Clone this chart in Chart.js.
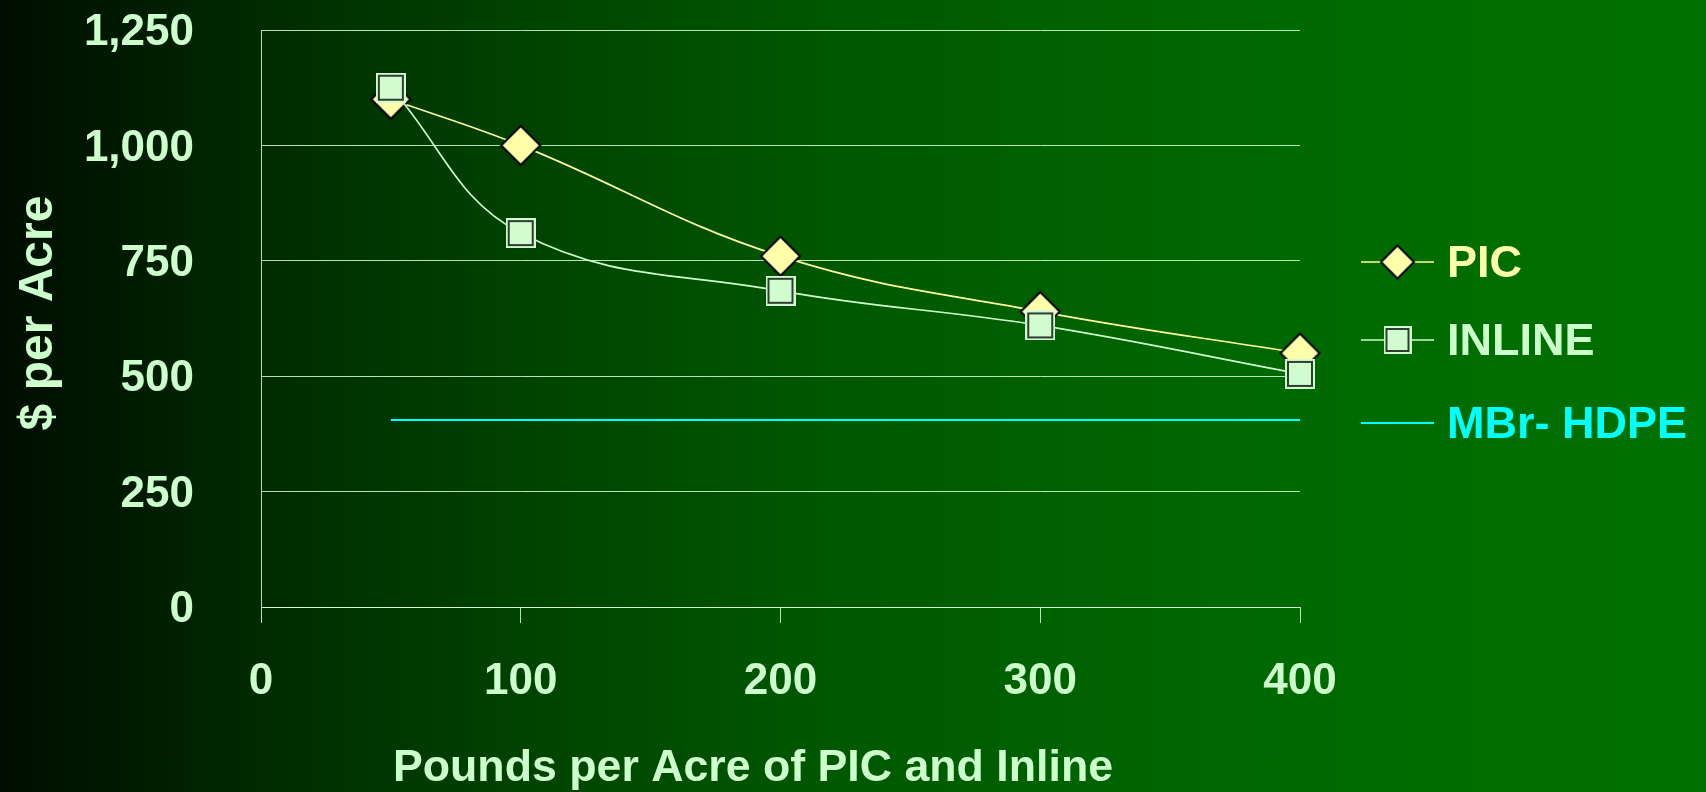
<!DOCTYPE html>
<html>
<head>
<meta charset="utf-8">
<script src="https://cdn.jsdelivr.net/npm/chart.js@4/dist/chart.umd.min.js"></script>
<style>
  html, body { margin: 0; padding: 0; width: 1706px; height: 792px; overflow: hidden; }
  body {
    background: linear-gradient(to right,
      rgb(0,14,0) 0%, rgb(0,22,0) 5%, rgb(0,42,0) 15%, rgb(0,57,0) 24%,
      rgb(0,72,0) 35%, rgb(0,86,0) 47%, rgb(0,97,0) 62%, rgb(0,107,0) 80%, rgb(0,113,0) 100%);
  }
  #wrap { position: relative; width: 1706px; height: 792px; }
</style>
</head>
<body>
<div id="wrap"><canvas id="chart" width="1706" height="792"></canvas></div>
<script>
// Application rate (lb/acre) and cost ($/acre)
const pounds = [50, 100, 200, 300, 400];
const picCost = [1100, 1000, 760, 640, 550];
const inlineCost = [1125, 810, 685, 610, 505];
const mbrPounds = [50, 400];
const mbrCost = [405, 405];

const seriesNames = ['PIC', 'INLINE', 'MBr- HDPE'];
const xTickValues = [0, 100, 200, 300, 400];
const yTickValues = [0, 250, 500, 750, 1000, 1250];
const xTitle = 'Pounds per Acre of PIC and Inline';
const yTitle = '$ per Acre';

const FONT = '"Liberation Sans", Arial, Helvetica, sans-serif';
const TEXT = '#ccffcc';
const GRID = 'rgba(215,255,215,0.85)';

// Marker images
function diamondMarker(half) {
  const s = Math.ceil(half * 2 + 4);
  const c = document.createElement('canvas');
  c.width = s; c.height = s;
  const g = c.getContext('2d');
  const m = s / 2;
  g.beginPath();
  g.moveTo(m, m - half); g.lineTo(m + half, m); g.lineTo(m, m + half); g.lineTo(m - half, m);
  g.closePath();
  g.fillStyle = '#ffffaa';
  g.fill();
  g.lineWidth = 2;
  g.strokeStyle = '#000000';
  g.stroke();
  return c;
}
function squareMarker(side) {
  const c = document.createElement('canvas');
  c.width = side; c.height = side;
  const g = c.getContext('2d');
  g.fillStyle = '#d4fbd4';
  g.fillRect(0, 0, side, side);
  g.fillStyle = '#2e3e2e';
  g.fillRect(2, 2, side - 4, side - 4);
  g.fillStyle = '#d0fcd0';
  g.fillRect(4, 4, side - 8, side - 8);
  return c;
}
const picMark = diamondMarker(19.5);
const inlineMark = squareMarker(30);
const picLegendMark = diamondMarker(16.5);
const inlineLegendMark = squareMarker(28);

const seriesStyles = [
  { line: '#ffff99', text: '#ffffaa', mark: picLegendMark },
  { line: '#ccffcc', text: '#ccffcc', mark: inlineLegendMark },
  { line: '#00ffff', text: '#00ffff', mark: null }
];

// Legend at the right of the plot
const sideLegend = {
  id: 'sideLegend',
  afterDraw(chart) {
    const ctx = chart.ctx;
    const rows = [262, 340, 423];
    ctx.save();
    ctx.font = 'bold 45px ' + FONT;
    ctx.textBaseline = 'middle';
    ctx.textAlign = 'left';
    seriesNames.forEach((name, i) => {
      const y = rows[i];
      const st = seriesStyles[i];
      ctx.strokeStyle = st.line;
      ctx.lineWidth = i === 2 ? 2 : 1.5;
      ctx.beginPath();
      ctx.moveTo(1361, y);
      ctx.lineTo(1434, y);
      ctx.stroke();
      if (st.mark) {
        ctx.drawImage(st.mark, 1397.5 - st.mark.width / 2, y - st.mark.height / 2);
      }
      ctx.fillStyle = st.text;
      ctx.fillText(name, 1447, y + 3);
    });
    ctx.restore();
  }
};

// Axis captions
const axisCaptions = {
  id: 'axisCaptions',
  afterDraw(chart) {
    const ctx = chart.ctx;
    ctx.save();
    ctx.fillStyle = TEXT;
    ctx.font = 'bold 44.7px ' + FONT;
    ctx.textAlign = 'center';
    ctx.textBaseline = 'middle';
    ctx.fillText(xTitle, 753, 769);
    ctx.translate(39, 313);
    ctx.rotate(-Math.PI / 2);
    ctx.font = 'bold 48px ' + FONT;
    ctx.fillText(yTitle, 0, 0);
    ctx.restore();
  }
};

const toPoints = (xs, ys) => xs.map((x, i) => ({ x, y: ys[i] }));

new Chart(document.getElementById('chart'), {
  type: 'line',
  data: {
    datasets: [
      {
        label: seriesNames[0],
        data: toPoints(pounds, picCost),
        borderColor: seriesStyles[0].line,
        borderWidth: 1.7,
        pointStyle: picMark,
        tension: 0.4,
        clip: false,
        order: 2
      },
      {
        label: seriesNames[1],
        data: toPoints(pounds, inlineCost),
        borderColor: seriesStyles[1].line,
        borderWidth: 1.7,
        pointStyle: inlineMark,
        tension: 0.4,
        clip: false,
        order: 1
      },
      {
        label: seriesNames[2],
        data: toPoints(mbrPounds, mbrCost),
        borderColor: seriesStyles[2].line,
        borderWidth: 2,
        pointRadius: 0,
        tension: 0,
        clip: false,
        order: 3
      }
    ]
  },
  options: {
    responsive: false,
    animation: false,
    devicePixelRatio: 1,
    layout: { padding: { top: 30, right: 406, bottom: 0, left: 0 } },
    plugins: { legend: { display: false }, tooltip: { enabled: false } },
    scales: {
      x: {
        type: 'linear',
        min: xTickValues[0],
        max: xTickValues[xTickValues.length - 1],
        afterBuildTicks(scale) { scale.ticks = xTickValues.map(v => ({ value: v })); },
        afterFit(scale) { scale.height = 185; },
        grid: { drawOnChartArea: false, drawTicks: true, tickLength: 16, color: GRID, lineWidth: 1 },
        border: { display: true, color: GRID, width: 1 },
        ticks: {
          color: TEXT,
          padding: 32,
          maxRotation: 0,
          font: { family: FONT, size: 44, weight: 'bold' },
          callback: v => v.toLocaleString('en-US')
        }
      },
      y: {
        min: yTickValues[0],
        max: yTickValues[yTickValues.length - 1],
        afterBuildTicks(scale) { scale.ticks = yTickValues.map(v => ({ value: v })); },
        afterFit(scale) { scale.width = 261; },
        grid: { drawTicks: true, tickLength: 60, tickColor: 'rgba(0,0,0,0)', color: GRID, lineWidth: 1 },
        border: { display: true, color: GRID, width: 1 },
        ticks: {
          color: TEXT,
          padding: 7,
          labelOffset: 3,
          font: { family: FONT, size: 44, weight: 'bold', lineHeight: 1 },
          callback: v => v.toLocaleString('en-US')
        }
      }
    }
  },
  plugins: [sideLegend, axisCaptions]
});
</script>
</body>
</html>
